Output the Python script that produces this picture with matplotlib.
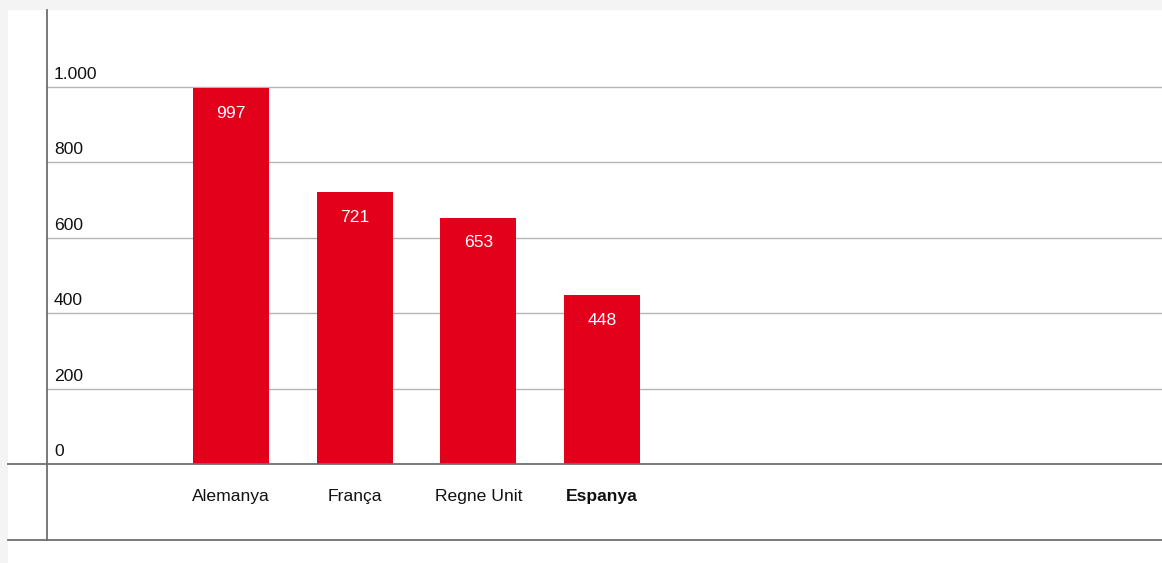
import matplotlib.pyplot as plt
from matplotlib.patches import Rectangle
from matplotlib.lines import Line2D

# dades
paisos = ['Alemanya', 'França', 'Regne Unit', 'Espanya']
valors = [997, 721, 653, 448]
ticks_y = [0, 200, 400, 600, 800, 1000]
etiquetes_y = ['0', '200', '400', '600', '800', '1.000']

VERMELL = '#e2001a'
W, H = 1162, 563
FS = 12.6

plt.rcParams['font.family'] = ['Liberation Sans', 'DejaVu Sans']

fig = plt.figure(figsize=(W / 100, H / 100), dpi=100, facecolor='#f4f4f4')

# panell blanc
fig.patches.append(Rectangle((8 / W, 0), 1 - 8 / W, 1 - 10 / H,
                             transform=fig.transFigure, facecolor='white',
                             edgecolor='none', zorder=-5))

ax = fig.add_axes([46 / W, (H - 464) / H, 1 - 46 / W, (464 - 10) / H])
ax.set_facecolor('none')
ax.set_zorder(2)
ax.set_ylim(0, 1000 * (464 - 10) / (464 - 87))
ax.set_xlim(-1.496, 7.527)

x = list(range(len(paisos)))
ax.bar(x, valors, width=0.614, color=VERMELL, zorder=3)

for yi, lab in zip(ticks_y, etiquetes_y):
    if yi > 0:
        ax.axhline(yi, color='#b4b4b4', lw=1, zorder=1)
    ax.annotate(lab, (0, yi), xycoords=('axes fraction', 'data'),
                xytext=(8, 5), textcoords='offset pixels',
                ha='left', va='bottom', fontsize=FS, color='#111111')

for xi, v in zip(x, valors):
    ax.annotate(str(v), (xi, v), xytext=(0, -25), textcoords='offset pixels',
                ha='center', va='center', fontsize=FS, color='white', zorder=4)

for xi, p in zip(x, paisos):
    ax.annotate(p, (xi, 0), xytext=(0, -32), textcoords='offset pixels',
                ha='center', va='center', fontsize=FS, color='#111111',
                fontweight='bold' if p == 'Espanya' else 'normal',
                annotation_clip=False)

ax.set_xticks([])
ax.set_yticks([])
for s in ax.spines.values():
    s.set_visible(False)

# línies d'eix
lc = '#6e6e6e'
fig.lines.append(Line2D([46.5 / W, 46.5 / W], [(H - 540) / H, (H - 10) / H],
                        transform=fig.transFigure, color=lc, lw=1.3, zorder=5))
fig.lines.append(Line2D([8 / W, 1], [(H - 464) / H, (H - 464) / H],
                        transform=fig.transFigure, color=lc, lw=1.3, zorder=5))
fig.lines.append(Line2D([8 / W, 1], [(H - 540) / H, (H - 540) / H],
                        transform=fig.transFigure, color=lc, lw=1.3, zorder=5))

fig.savefig('out.png', dpi=100, facecolor=fig.get_facecolor())
